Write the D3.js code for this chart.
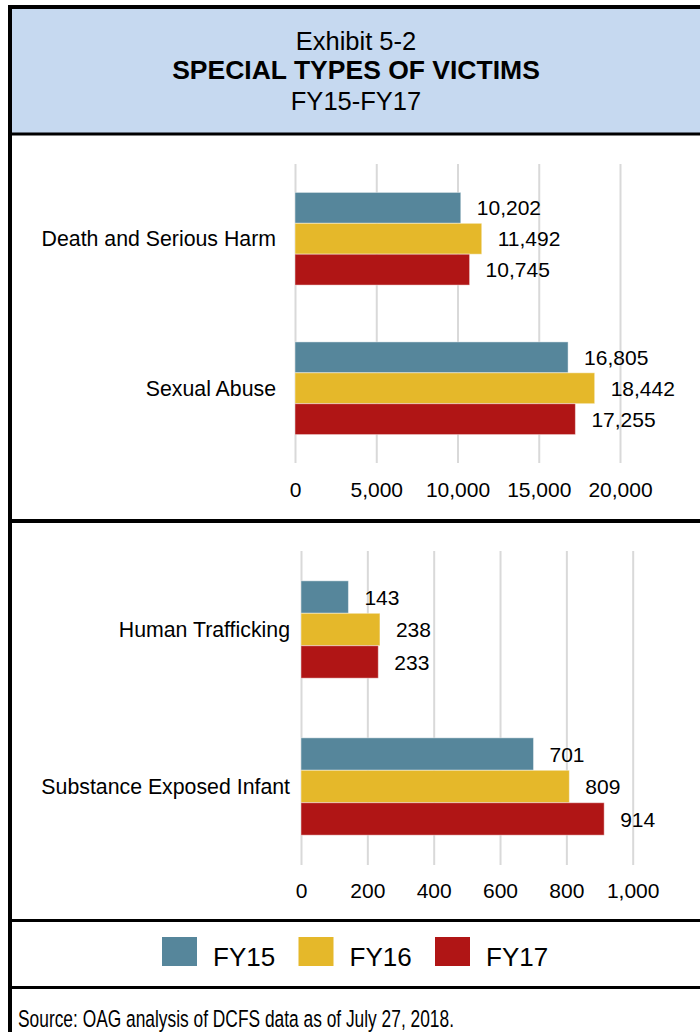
<!DOCTYPE html>
<html>
<head>
<meta charset="utf-8">
<script src="https://cdn.jsdelivr.net/npm/d3@7"></script>
<style>
  html, body { margin: 0; padding: 0; background: #fff; }
  svg { display: block; }
  text { font-family: "Liberation Sans", Arial, Helvetica, sans-serif; fill: #000; }
</style>
</head>
<body>
<div id="chart"></div>
<script>
// ---- Data ----
const series = ["FY15", "FY16", "FY17"];
const seriesColors = ["#56869b", "#e5b82a", "#b01515"];

const categoriesTop = ["Death and Serious Harm", "Sexual Abuse"];
const fy15Top = [10202, 16805];
const fy16Top = [11492, 18442];
const fy17Top = [10745, 17255];
const ticksTop = [0, 5000, 10000, 15000, 20000];

const categoriesBottom = ["Human Trafficking", "Substance Exposed Infant"];
const fy15Bottom = [143, 701];
const fy16Bottom = [238, 809];
const fy17Bottom = [233, 914];
const ticksBottom = [0, 200, 400, 600, 800, 1000];

const titleLines = ["Exhibit 5-2", "SPECIAL TYPES OF VICTIMS", "FY15-FY17"];
const sourceText = "Source: OAG analysis of DCFS data as of July 27, 2018.";

// ---- Layout ----
const W = 700, H = 1032;
const svg = d3.select("#chart").append("svg").attr("width", W).attr("height", H);
const fmt = d3.format(",");

// Header background
svg.append("rect").attr("x", 10).attr("y", 7).attr("width", 700).attr("height", 127)
  .attr("fill", "#c6d9f0");

// Title
const titleY = [50, 79, 110];
svg.selectAll("text.title").data(titleLines).join("text")
  .attr("class", "title")
  .attr("x", 356).attr("y", (d, i) => titleY[i])
  .attr("text-anchor", "middle")
  .attr("font-size", (d, i) => i === 1 ? 26.5 : 25.5)
  .attr("font-weight", (d, i) => i === 1 ? "bold" : "normal")
  .text(d => d);

function drawChart(cfg) {
  const { categories, values, ticks, xRange, yRange, labelGap, axisPad } = cfg;
  const x = d3.scaleLinear().domain([0, ticks[ticks.length - 1]]).range(xRange);
  const y0 = d3.scaleBand().domain(categories).range(yRange)
    .paddingInner(0.38).paddingOuter(0.19);
  const y1 = d3.scaleBand().domain(series).range([0, y0.bandwidth()]);

  const g = svg.append("g");

  // gridlines + tick labels via axis
  const axis = d3.axisBottom(x).tickValues(ticks).tickFormat(fmt)
    .tickSize(-(yRange[1] - yRange[0])).tickPadding(axisPad);
  const ax = g.append("g").attr("transform", `translate(0,${yRange[1]})`).call(axis);
  ax.select(".domain").remove();
  ax.selectAll(".tick line").attr("stroke", "#d9d9d9").attr("stroke-width", 2);
  ax.selectAll(".tick text").attr("font-size", 21).attr("fill", "#000")
    .style("font-family", "'Liberation Sans', Arial, sans-serif");

  // bars
  const rows = [];
  categories.forEach((c, ci) => {
    series.forEach((s, si) => rows.push({ c, s, si, v: values[si][ci] }));
  });
  g.selectAll("rect.bar").data(rows).join("rect")
    .attr("class", "bar")
    .attr("x", x(0))
    .attr("y", d => y0(d.c) + y1(d.s))
    .attr("width", d => x(d.v) - x(0))
    .attr("height", y1.bandwidth())
    .attr("fill", d => seriesColors[d.si])
    .attr("stroke", "#ffffff").attr("stroke-opacity", 0.45).attr("stroke-width", 1);

  // value labels
  g.selectAll("text.val").data(rows).join("text")
    .attr("class", "val")
    .attr("x", d => x(d.v) + 16)
    .attr("y", d => y0(d.c) + y1(d.s) + y1.bandwidth() / 2)
    .attr("dy", "0.36em")
    .attr("font-size", 21)
    .text(d => fmt(d.v));

  // category labels
  g.selectAll("text.cat").data(categories).join("text")
    .attr("class", "cat")
    .attr("x", x(0) - labelGap)
    .attr("y", d => y0(d) + y0.bandwidth() / 2)
    .attr("dy", "0.36em")
    .attr("text-anchor", "end")
    .attr("font-size", 21.3)
    .text(d => d);
}

drawChart({
  categories: categoriesTop,
  values: [fy15Top, fy16Top, fy17Top],
  ticks: ticksTop,
  xRange: [295, 620],
  yRange: [164, 463],
  labelGap: 19,
  axisPad: 19
});

drawChart({
  categories: categoriesBottom,
  values: [fy15Bottom, fy16Bottom, fy17Bottom],
  ticks: ticksBottom,
  xRange: [301, 632.7],
  yRange: [551, 865],
  labelGap: 11,
  axisPad: 18
});

// Legend
const leg = svg.append("g");
const legStep = 136.5;
leg.selectAll("rect").data(series).join("rect")
  .attr("x", (d, i) => 162 + i * legStep).attr("y", 937)
  .attr("width", 35).attr("height", 29)
  .attr("fill", (d, i) => seriesColors[i]);
leg.selectAll("text").data(series).join("text")
  .attr("x", (d, i) => 213 + i * legStep).attr("y", 966)
  .attr("font-size", 26)
  .text(d => d);

// Source
svg.append("text").attr("x", 18).attr("y", 1027)
  .attr("font-size", 24.5)
  .attr("textLength", 436).attr("lengthAdjust", "spacingAndGlyphs")
  .text(sourceText);

// Frame and dividers
const frame = svg.append("g").attr("stroke", "#000").attr("fill", "none");
frame.append("rect").attr("x", 10).attr("y", 7).attr("width", 720).attr("height", 1100)
  .attr("stroke-width", 4);
[134, 521, 920.5, 987.5].forEach((yy, i) => {
  frame.append("line").attr("x1", 10).attr("x2", 702).attr("y1", yy).attr("y2", yy)
    .attr("stroke-width", i === 1 ? 4 : 3);
});
</script>
</body>
</html>
